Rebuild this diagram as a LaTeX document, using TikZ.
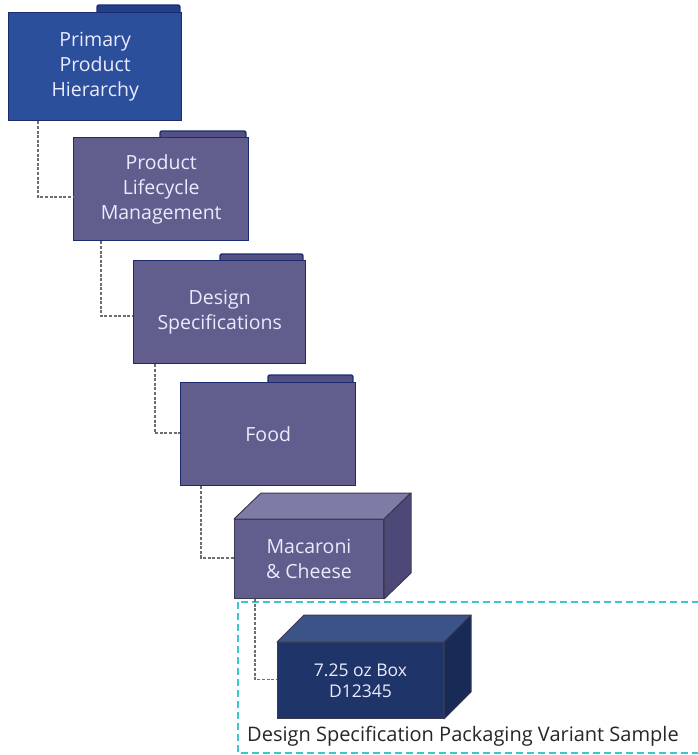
\documentclass[tikz,border=0pt]{standalone}
\usepackage{fontspec}
\setmainfont{Open Sans}
\usetikzlibrary{calc}
\definecolor{fblue}{HTML}{2C4F9C}
\definecolor{fbluetab}{HTML}{22408A}
\definecolor{fpurple}{HTML}{615D8D}
\definecolor{fpurpletab}{HTML}{535083}
\definecolor{fedge}{HTML}{1C2B70}
\definecolor{mfront}{HTML}{615D8D}
\definecolor{mtop}{HTML}{7E7BA6}
\definecolor{mside}{HTML}{4C4978}
\definecolor{bfront}{HTML}{1F3468}
\definecolor{btop}{HTML}{3B5388}
\definecolor{bside}{HTML}{182A56}
\definecolor{boxedge}{HTML}{3A3A50}
\definecolor{conn}{HTML}{6E6E6E}
\definecolor{cyanline}{HTML}{3CC6CE}
\tikzset{
  folder/.style={draw=fedge, line width=1.4pt, text=white!92!blue, align=center,
    font=\fontsize{19.5}{25}\selectfont, inner sep=0pt, anchor=north west},
  tabshape/.style={draw=fedge, line width=1.4pt, rounded corners=2pt},
  boxfront/.style={draw=boxedge, line width=1pt, text=white!92!blue, align=center,
    inner sep=0pt, anchor=north west},
  boxface/.style={draw=boxedge, line width=1pt, line join=round},
  connector/.style={draw=conn, line width=1.5pt, dash pattern=on 3pt off 1.6pt},
}
\begin{document}
\begin{tikzpicture}[x=1pt,y=-1pt]
\useasboundingbox (0,0) rectangle (698,755);
\clip (0,0) rectangle (698,755);

% dashed cyan frame
\draw[cyanline, line width=1.2pt, dash pattern=on 7pt off 4pt] (238,602) rectangle (730,753);

% folders
\node[folder, fill=fblue, minimum width=173pt, minimum height=108pt] (f1) at (8,12) {Primary\\Product\\Hierarchy};
\fill[fbluetab] (97,12) -- (97,5) -- (180,5) -- (180,12) -- cycle;
\draw[tabshape] (97,12) -- (97,5) -- (180,5) -- (180,12);

\node[folder, fill=fpurple, minimum width=175pt, minimum height=103pt] (f2) at (73,137) {Product\\Lifecycle\\Management};
\fill[fpurpletab] (160,137) -- (160,131) -- (246,131) -- (246,137) -- cycle;
\draw[tabshape] (160,137) -- (160,131) -- (246,131) -- (246,137);

\node[folder, fill=fpurple, minimum width=172pt, minimum height=103pt] (f3) at (133,260) {Design\\Specifications};
\fill[fpurpletab] (220,260) -- (220,254) -- (303,254) -- (303,260) -- cycle;
\draw[tabshape] (220,260) -- (220,254) -- (303,254) -- (303,260);

\node[folder, fill=fpurple, minimum width=175pt, minimum height=103pt] (f4) at (180,382) {Food};
\fill[fpurpletab] (268,382) -- (268,375) -- (353,375) -- (353,382) -- cycle;
\draw[tabshape] (268,382) -- (268,375) -- (353,375) -- (353,382);

% macaroni box
\node[boxfront, fill=mfront, minimum width=149pt, minimum height=79pt,
  font=\fontsize{19.5}{25}\selectfont] (m) at (234,519) {Macaroni\\\& Cheese};
\filldraw[boxface, fill=mtop] (m.north west) -- ++(27,-26) -- ($(m.north east)+(27,-26)$) -- (m.north east) -- cycle;
\filldraw[boxface, fill=mside] (m.north east) -- ++(27,-26) -- ($(m.south east)+(27,-26)$) -- (m.south east) -- cycle;

% 7.25 oz box
\node[boxfront, fill=bfront, minimum width=166pt, minimum height=76pt,
  font=\fontsize{17.5}{21}\selectfont] (b) at (277,642) {7.25 oz Box\\D12345};
\filldraw[boxface, fill=btop] (b.north west) -- ++(27,-27) -- ($(b.north east)+(27,-27)$) -- (b.north east) -- cycle;
\filldraw[boxface, fill=bside] (b.north east) -- ++(27,-27) -- ($(b.south east)+(27,-27)$) -- (b.south east) -- cycle;

% connectors
\draw[connector] ($(f1.south west)+(30,0)$) |- ($(f2.west)+(0,8)$);
\draw[connector] ($(f2.south west)+(28,0)$) |- ($(f3.west)+(0,4)$);
\draw[connector] ($(f3.south west)+(22,0)$) |- ($(f4.west)+(0,-1)$);
\draw[connector] ($(f4.south west)+(21,0)$) |- ($(m.west)+(0,-1)$);
\draw[connector] ($(m.south west)+(21,0)$) |- ($(b.west)+(0,-1)$);

% caption
\node[anchor=west, inner sep=0pt, text=black!85, font=\fontsize{20}{24}\selectfont] (cap) at (247,736) {Design Specification Packaging Variant Sample};
\end{tikzpicture}
\end{document}
